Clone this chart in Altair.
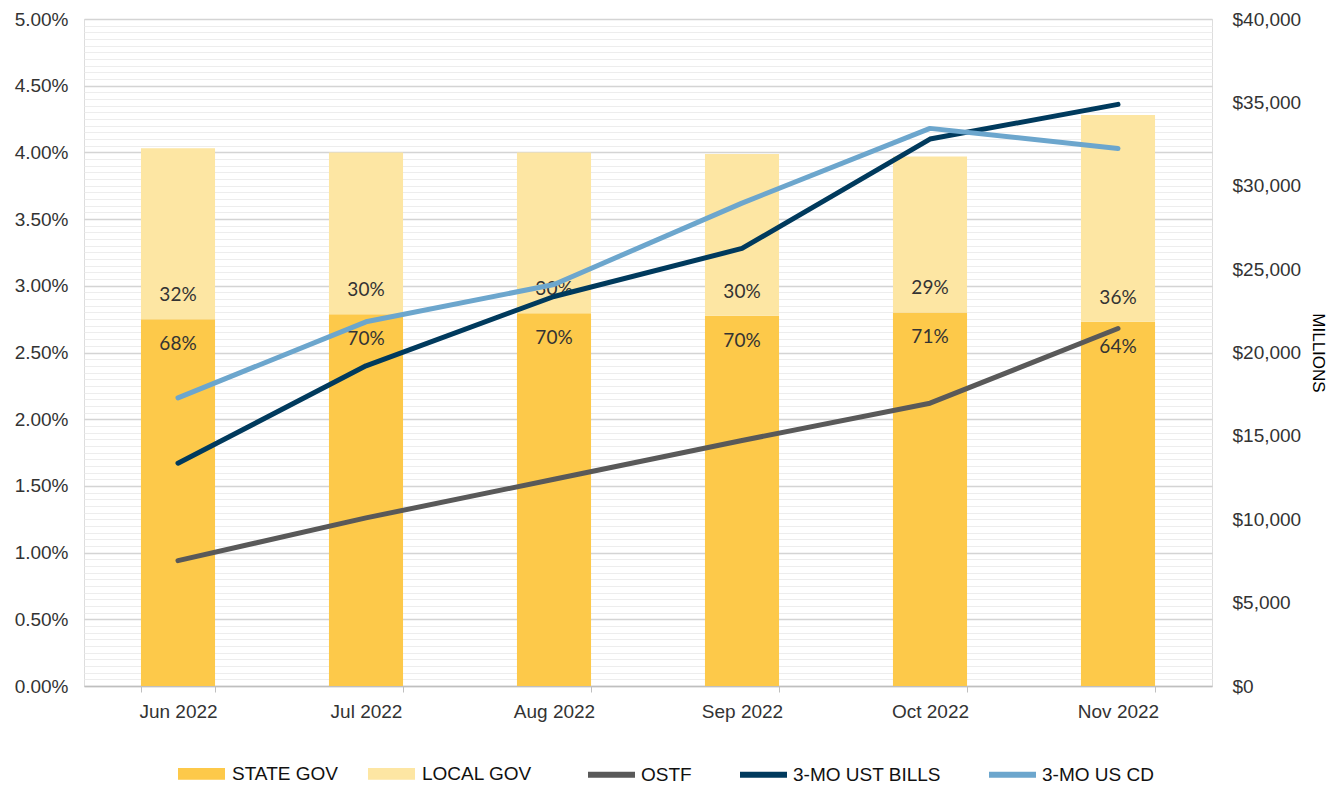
import altair as alt
import pandas as pd

months = ["Jun 2022", "Jul 2022", "Aug 2022", "Sep 2022", "Oct 2022", "Nov 2022"]
state_gov = [22000, 22300, 22350, 22200, 22400, 21850]   # $ millions
local_gov = [10250, 9700, 9650, 9700, 9350, 12400]       # $ millions
ostf = [0.94, 1.26, 1.55, 1.84, 2.12, 2.68]              # %
ust_bills = [1.67, 2.40, 2.92, 3.28, 4.10, 4.36]         # %
us_cd = [2.16, 2.73, 3.01, 3.62, 4.18, 4.03]             # %

bar_series = ["STATE GOV", "LOCAL GOV"]
line_series = ["OSTF", "3-MO UST BILLS", "3-MO US CD"]
bar_colors = ["#FDC94A", "#FDE6A3"]
line_colors = ["#595959", "#003A5D", "#6CA6CD"]

rows = []
for i, m in enumerate(months):
    total = state_gov[i] + local_gov[i]
    rows.append(dict(month=m, series="STATE GOV", value=state_gov[i], order=0,
                     share=f"{round(state_gov[i] / total * 100)}%", boundary=state_gov[i]))
    rows.append(dict(month=m, series="LOCAL GOV", value=local_gov[i], order=1,
                     share=f"{round(local_gov[i] / total * 100)}%", boundary=state_gov[i]))
bars_df = pd.DataFrame(rows)

lrows = []
for name, vals in zip(line_series, [ostf, ust_bills, us_cd]):
    for m, v in zip(months, vals):
        lrows.append(dict(month=m, series=name, rate=v / 100))
lines_df = pd.DataFrame(lrows)

FONT = "Liberation Sans, Arial, sans-serif"
LABEL_COLOR = "#333333"

x = alt.X(
    "month:N", sort=months,
    scale=alt.Scale(paddingInner=0.606, paddingOuter=0.303),
    axis=alt.Axis(title=None, labelAngle=0, tickBand="extent", ticks=True, tickSize=6,
                  tickColor="#BFBFBF", domainColor="#BFBFBF", domainWidth=1.5,
                  labelFont=FONT, labelFontSize=19, labelColor=LABEL_COLOR,
                  labelPadding=10, grid=False),
)

money_scale = alt.Scale(domain=[0, 40000], nice=False, zero=True)
money_axis = alt.Axis(orient="right", title="MILLIONS", values=list(range(0, 40001, 5000)),
                      format="$,.0f", grid=False, ticks=False, domain=False,
                      labelFont=FONT, labelFontSize=19, labelColor=LABEL_COLOR,
                      labelPadding=20, titleFont=FONT, titleFontSize=17,
                      titleFontWeight="normal", titleColor="#000000", titlePadding=8)

bars = alt.Chart(bars_df).mark_bar().encode(
    x=x,
    y=alt.Y("value:Q", stack="zero", scale=money_scale, axis=money_axis),
    color=alt.Color("series:N", scale=alt.Scale(domain=bar_series, range=bar_colors),
                    legend=alt.Legend(orient="none", legendX=94, legendY=731,
                                      direction="horizontal", title=None,
                                      symbolType="M-1,-0.25H1V0.25H-1Z", symbolSize=2209,
                                      symbolStrokeWidth=0, labelFont=FONT, labelFontSize=19,
                                      labelColor="#111111", labelOffset=7, columnPadding=30)),
    order=alt.Order("order:Q"),
)

text_state = alt.Chart(bars_df).transform_filter(alt.datum.series == "STATE GOV").mark_text(
    dy=25, font="Lato", fontSize=19, color="#333333"
).encode(x=x, y=alt.Y("boundary:Q", scale=money_scale, axis=money_axis), text="share:N")

text_local = alt.Chart(bars_df).transform_filter(alt.datum.series == "LOCAL GOV").mark_text(
    dy=-24, font="Lato", fontSize=19, color="#333333"
).encode(x=x, y=alt.Y("boundary:Q", scale=money_scale, axis=money_axis), text="share:N")

bar_layer = alt.layer(bars, text_state, text_local)

grid_values = [i * 0.0005 for i in range(101)]
major_test = "round(datum.value * 10000) % 50 === 0"

lines = alt.Chart(lines_df).mark_line(strokeWidth=5, strokeCap="round", strokeJoin="round").encode(
    x=x,
    y=alt.Y("rate:Q", scale=alt.Scale(domain=[0, 0.05], nice=False),
            axis=alt.Axis(orient="left", title=None, values=grid_values,
                          labelExpr=f"({major_test}) ? format(datum.value, '.2%') : ''",
                          labelOverlap=False, ticks=False, domain=False,
                          labelFont=FONT, labelFontSize=19, labelColor=LABEL_COLOR,
                          labelPadding=16, grid=True,
                          gridColor={"condition": {"test": major_test, "value": "#D4D4D4"},
                                     "value": "#EDEDED"},
                          gridWidth={"condition": {"test": major_test, "value": 1.5},
                                     "value": 1.2})),
    color=alt.Color("series:N", scale=alt.Scale(domain=line_series, range=line_colors),
                    legend=alt.Legend(orient="none", legendX=501, legendY=729,
                                      direction="horizontal", title=None,
                                      symbolType="stroke", symbolSize=2209, symbolStrokeWidth=6,
                                      labelFont=FONT, labelFontSize=19, labelColor="#111111",
                                      labelOffset=3, columnPadding=36)),
)

chart = alt.layer(bar_layer, lines).resolve_scale(
    y="independent", color="independent"
).resolve_legend(color="independent").properties(
    width=1128, height=667,
    autosize=alt.AutoSizeParams(type="none"),
    padding={"left": 76, "top": 11, "right": 118, "bottom": 100},
).configure_view(stroke="transparent", strokeOpacity=0).configure(background="white")

chart.save("out.html", embed_options={"renderer": "svg", "actions": False})
